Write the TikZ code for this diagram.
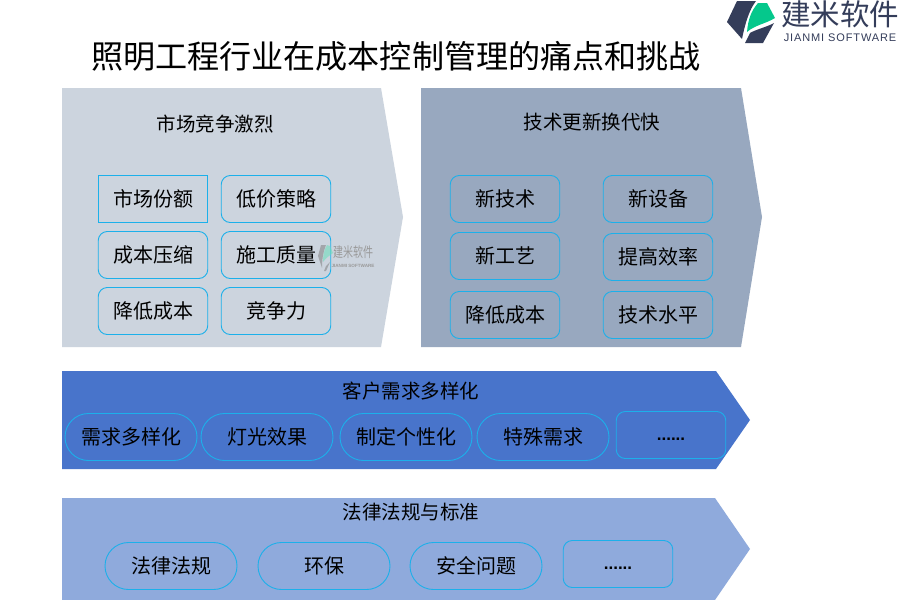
\documentclass[tikz,border=0pt]{standalone}
\usepackage{fontspec}
\setmainfont{Noto Sans CJK SC}
\newfontfamily\latinfont{Liberation Sans}
\newfontfamily\logofont[LetterSpace=8]{Liberation Sans}
\definecolor{panelA}{HTML}{CCD4DE}
\definecolor{panelB}{HTML}{98A8BF}
\definecolor{panelC}{HTML}{4874CB}
\definecolor{panelD}{HTML}{8FAADC}
\definecolor{edgeblue}{HTML}{1CB0EA}
\definecolor{logodark}{HTML}{343D5A}
\definecolor{logogreen}{HTML}{05C88C}
\tikzset{
	head/.style = {font = \fontsize{19.5}{22}\selectfont, inner sep = 0},
	item/.style = {font = \fontsize{20}{22}\selectfont, draw = edgeblue, line width = 0.9pt, inner sep = 0, minimum width = 109.5pt, minimum height = 47pt},
	card/.style = {item, rounded corners = 9pt},
	pill/.style = {item, rounded corners = 23.5pt, minimum width = 132pt},
	dots/.style = {card, font = \latinfont\bfseries\fontsize{17}{20}\selectfont, text height = 10pt, text depth = 0pt},
}
\begin{document}
\begin{tikzpicture}[x = 1pt, y = -1pt]
	\useasboundingbox (0,0) rectangle (900,600);
	\fill [white] (0,0) rectangle (900,600);
	% panels
	\fill [panelA] (62,88) -- (381,88) -- (403,217) -- (381,347) -- (62,347) -- cycle;
	\fill [panelB] (421,88) -- (741,88) -- (762,217) -- (741,347) -- (421,347) -- cycle;
	\fill [panelC] (62,371) -- (716,371) -- (750,420) -- (716,469) -- (62,469) -- cycle;
	\fill [panelD] (62,498) -- (715,498) -- (750,549) -- (715,600) -- (62,600) -- cycle;
	% title and headings
	\node [inner sep = 0, font = \fontsize{32.1}{36}\selectfont] (title) at (396,56) {照明工程行业在成本控制管理的痛点和挑战};
	\node [head] (market) at (215,124) {市场竞争激烈};
	\node [head] (tech) at (592,122) {技术更新换代快};
	\node [head] (custom) at (411,391) {客户需求多样化};
	\node [head] (law) at (411,512) {法律法规与标准};
	% market
	\node [item] (share) at (153,199) {市场份额};
	\node [card] (price) at (276,199) {低价策略};
	\node [card] (squeeze) at (153,255) {成本压缩};
	\node [card] (quality) at (276,255) {施工质量};
	\node [card] (costA) at (153,311) {降低成本};
	\node [card] (compete) at (276,311) {竞争力};
	% tech
	\node [card] (newtech) at (505,199) {新技术};
	\node [card] (newdev) at (658,199) {新设备};
	\node [card] (newproc) at (505,256) {新工艺};
	\node [card] (effic) at (658,257) {提高效率};
	\node [card] (costB) at (505,315) {降低成本};
	\node [card] (level) at (658,315) {技术水平};
	% customer
	\node [pill] (divers) at (131,437) {需求多样化};
	\node [pill] (light) at (267,437) {灯光效果};
	\node [pill] (custm) at (406,437) {制定个性化};
	\node [pill] (special) at (543,437) {特殊需求};
	\node [dots] (moreA) at (671,435) {......};
	% law
	\node [pill] (rules) at (171,566) {法律法规};
	\node [pill] (green) at (324,566) {环保};
	\node [pill] (safe) at (476,566) {安全问题};
	\node [dots] (moreB) at (618,564) {......};
	% logo
	\fill [logodark] (737,1) -- (756,1) .. controls (749,10) and (745,24) .. (742,39) -- (727,22) -- cycle;
	\fill [logodark] (745,43) -- (750,33) .. controls (757,29) and (767,27) .. (774,23) -- (763,43) -- cycle;
	\fill [logogreen] (758,3) -- (767,3) -- (775,18) .. controls (765,24) and (755,25) .. (747,32) .. controls (748,20) and (751,11) .. (758,3) -- cycle;
	\node [inner sep = 0, text = logodark, font = \fontsize{29.5}{31}\selectfont] (brand) at (840,14) {建米软件};
	\node [inner sep = 0, text = logodark, font = \logofont\fontsize{11}{12}\selectfont] (brandsub) at (840,38) {JIANMI SOFTWARE};
	% watermark
	\begin{scope}[opacity = 0.55]
		\fill [gray] (321,245) -- (326,245) .. controls (323,252) and (322,260) .. (322,268) -- (318,256) -- cycle;
		\fill [gray] (324,271) -- (326,266) -- (330,262) -- (326,271) -- cycle;
		\fill [logogreen!60] (327,245) -- (330,246) -- (333,253) .. controls (329,256) and (326,258) .. (323,262) .. controls (323,255) and (324,250) .. (327,245) -- cycle;
	\end{scope}
	\node [inner sep = 0, yscale = 1.4, text = gray!80, font = \fontsize{10}{11}\selectfont] (markA) at (353,252) {建米软件};
	\node [inner sep = 0, text = gray!80, font = \latinfont\bfseries\fontsize{4.6}{5}\selectfont] (markB) at (353,266) {JIANMI SOFTWARE};
\end{tikzpicture}
\end{document}
